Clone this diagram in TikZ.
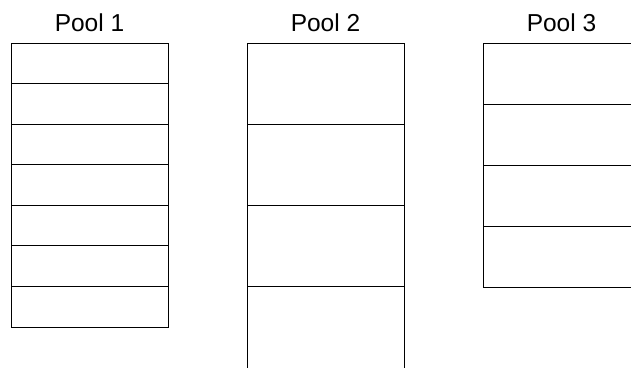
\documentclass[tikz,border=0pt]{standalone}
\usepackage{fontspec}
\setmainfont{Liberation Sans}
\begin{document}
\begin{tikzpicture}[x=1pt,y=-1pt,
  cell/.style={draw=black,line width=0.9pt,minimum width=157pt,inner sep=0pt,outer sep=0pt,anchor=north west},
  cellA/.style={cell,minimum height=40.57pt},
  cellB/.style={cell,minimum height=81.3pt},
  cellC/.style={cell,minimum height=61pt},
  title/.style={font=\fontsize{24.5}{28}\selectfont,anchor=base,inner sep=0pt}]
\useasboundingbox (0,0) rectangle (631,367);
\clip (0,0) rectangle (631,367);
% titles
\node[title] (t1) at (89.5,31) {Pool 1};
\node[title] (t2) at (325.5,31) {Pool 2};
\node[title] (t3) at (561.5,31) {Pool 3};
% Pool 1
\foreach \i in {0,...,6}{
  \node[cellA] (a\i) at (11,43+\i*40.57) {};
}
% Pool 2
\foreach \i in {0,...,3}{
  \node[cellB] (b\i) at (247,43+\i*81.3) {};
}
% Pool 3
\foreach \i in {0,...,3}{
  \node[cellC] (c\i) at (483,43+\i*61) {};
}
\end{tikzpicture}
\end{document}
